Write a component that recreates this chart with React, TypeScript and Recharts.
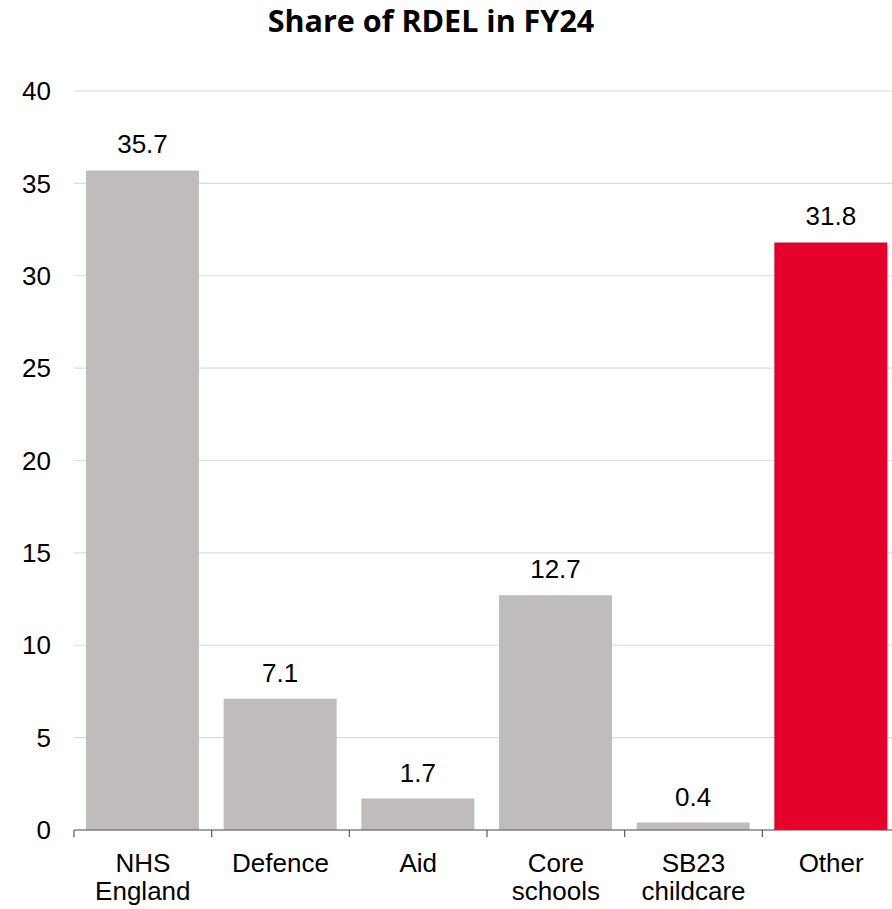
import React from "react";
import {
  BarChart,
  Bar,
  CartesianGrid,
  Cell,
  LabelList,
  XAxis,
  YAxis,
} from "recharts";

// Share of resource DEL by area, FY24 (%)
const categories = [
  "NHS\nEngland",
  "Defence",
  "Aid",
  "Core\nschools",
  "SB23\nchildcare",
  "Other",
];
const shares = [35.7, 7.1, 1.7, 12.7, 0.4, 31.8];
const yTicks = [0, 5, 10, 15, 20, 25, 30, 35, 40];
const highlighted = "Other";

const data = categories.map((name, i) => ({ name, share: shares[i] }));

const FONT = "'Liberation Sans', Arial, sans-serif";
const GREY = "#c0bcbc";
const RED = "#e4002b";

// category label split over lines, with a tick mark on the left boundary
const CategoryTick = (props: any) => {
  const { x, y, payload, width, visibleTicksCount } = props;
  const half =
    payload.offset != null && payload.offset > 0
      ? payload.offset
      : width / visibleTicksCount / 2;
  const lines = String(payload.value).split("\n");
  return (
    <g>
      <line
        x1={x - half}
        x2={x - half}
        y1={y}
        y2={y + 7}
        stroke="#595959"
        strokeWidth={1.2}
      />
      {lines.map((line, i) => (
        <text
          key={i}
          x={x}
          y={y + 42 + i * 28}
          textAnchor="middle"
          fontFamily={FONT}
          fontSize={26}
          fill="#000"
        >
          {line}
        </text>
      ))}
    </g>
  );
};

export default function App() {
  return (
    <div
      style={{
        position: "absolute",
        left: 0,
        top: 0,
        width: 892,
        height: 909,
        overflow: "hidden",
        background: "#fff",
      }}
    >
      <svg
        width={892}
        height={50}
        style={{ position: "absolute", left: 0, top: 0 }}
      >
        <text
          x={431}
          y={32}
          textAnchor="middle"
          fontFamily="'Open Sans', sans-serif"
          fontWeight={700}
          fontSize={30.5}
          fill="#000"
        >
          Share of RDEL in FY24
        </text>
      </svg>
      <div style={{ position: "absolute", left: 0, top: 0 }}>
        <BarChart
          width={900}
          height={909}
          data={data}
          margin={{ top: 91, right: 0, left: 0, bottom: 0 }}
        >
          <CartesianGrid
            vertical={false}
            stroke="#dcdcdc"
            strokeWidth={1.2}
          />
          <XAxis
            dataKey="name"
            height={79}
            tickLine={false}
            tickSize={0}
            tickMargin={0}
            axisLine={{ stroke: "#595959", strokeWidth: 1.2 }}
            tick={<CategoryTick />}
            interval={0}
          />
          <YAxis
            width={74}
            domain={[0, 40]}
            ticks={yTicks}
            axisLine={false}
            tickLine={false}
            tickSize={0}
            tickMargin={23}
            tick={{ fontFamily: FONT, fontSize: 26, fill: "#000" }}
          />
          <Bar dataKey="share" barSize={113} isAnimationActive={false}>
            {data.map((d) => (
              <Cell key={d.name} fill={d.name === highlighted ? RED : GREY} />
            ))}
            <LabelList
              dataKey="share"
              position="top"
              offset={17}
              style={{ fontFamily: FONT, fontSize: 26, fill: "#000" }}
            />
          </Bar>
        </BarChart>
      </div>
    </div>
  );
}
